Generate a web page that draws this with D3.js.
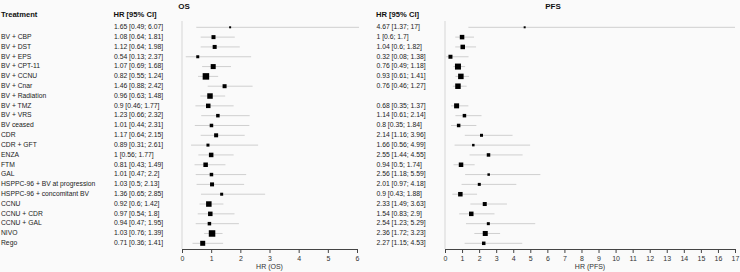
<!DOCTYPE html>
<html>
<head>
<meta charset="utf-8">
<script src="https://cdn.jsdelivr.net/npm/d3@7"></script>
<style>
  body { margin: 0; background: #fafafa; }
  svg { font-family: "Liberation Sans", Arial, sans-serif; display: block; }
</style>
</head>
<body>
<div id="chart"></div>
<script>
// Data
const treatments = ["", "BV + CBP", "BV + DST", "BV + EPS", "BV + CPT-11", "BV + CCNU", "BV + Cnar",
  "BV + Radiation", "BV + TMZ", "BV + VRS", "BV ceased", "CDR", "CDR + GFT", "ENZA", "FTM", "GAL",
  "HSPPC-96 + BV at progression", "HSPPC-96 + concomitant BV", "CCNU", "CCNU + CDR", "CCNU + GAL", "NIVO", "Rego"];

const osHR    = [1.65, 1.08, 1.12, 0.54, 1.07, 0.82, 1.46, 0.96, 0.9, 1.23, 1.01, 1.17, 0.89, 1, 0.81, 1.01, 1.03, 1.36, 0.92, 0.97, 0.94, 1.03, 0.71];
const osLower = [0.49, 0.64, 0.64, 0.13, 0.69, 0.55, 0.88, 0.63, 0.46, 0.66, 0.44, 0.64, 0.31, 0.56, 0.43, 0.47, 0.5, 0.65, 0.6, 0.54, 0.47, 0.76, 0.36];
const osUpper = [6.07, 1.81, 1.98, 2.37, 1.68, 1.24, 2.42, 1.48, 1.77, 2.32, 2.31, 2.15, 2.61, 1.77, 1.49, 2.2, 2.13, 2.85, 1.42, 1.8, 1.95, 1.39, 1.41];
const osWeight = [2, 4, 4, 3, 5, 6.5, 4, 5.5, 4.5, 3.5, 3.5, 4, 3, 4.5, 4.5, 3.5, 4, 3, 5.5, 4.5, 3.5, 6.5, 5];

const pfsHR    = [4.67, 1, 1.04, 0.32, 0.76, 0.93, 0.76, null, 0.68, 1.14, 0.8, 2.14, 1.66, 2.55, 0.94, 2.56, 2.01, 0.9, 2.33, 1.54, 2.54, 2.36, 2.27];
const pfsLower = [1.37, 0.6, 0.6, 0.08, 0.49, 0.61, 0.46, null, 0.35, 0.61, 0.35, 1.16, 0.56, 1.44, 0.5, 1.18, 0.97, 0.43, 1.49, 0.83, 1.23, 1.72, 1.15];
const pfsUpper = [17, 1.7, 1.82, 1.38, 1.18, 1.41, 1.27, null, 1.37, 2.14, 1.84, 3.96, 4.99, 4.55, 1.74, 5.59, 4.18, 1.88, 3.63, 2.9, 5.29, 3.23, 4.53];
const pfsWeight = [2, 4.5, 4.5, 4, 6, 5.5, 5.5, null, 5, 3.5, 3.5, 3, 2.5, 3.5, 4.5, 2.5, 3, 4.5, 4, 4.5, 3, 5, 3.5];

const osTicks = d3.range(0, 7);
const pfsTicks = d3.range(0, 18);

const W = 740, H = 272;
const svg = d3.select("#chart").append("svg")
    .attr("width", W)
    .attr("height", H);

const y = d3.scalePoint()
    .domain(d3.range(treatments.length))
    .range([27.3, 243.3]);

const axisY = 249;
const size = d3.scaleLinear().domain([0, 7]).range([0, 7]);

// Header
svg.append("text").attr("x", 1).attr("y", 15).attr("dominant-baseline", "middle")
    .attr("font-size", 7.6).attr("font-weight", "bold").attr("fill", "#111").text("Treatment");

svg.selectAll("text.treat")
    .data(treatments)
    .enter().append("text")
    .attr("class", "treat")
    .attr("x", 1)
    .attr("y", (d, i) => y(i))
    .attr("dominant-baseline", "middle")
    .attr("font-size", 6.75)
    .attr("fill", "#222")
    .text(d => d);

function fmt(v) { return String(v); }

function panel(opts) {
    const x = d3.scaleLinear().domain(opts.domain).range(opts.range);
    const rows = treatments.map((t, i) => ({
        i, hr: opts.hr[i], lo: opts.lower[i], hi: opts.upper[i], w: opts.weight[i]
    })).filter(d => d.hr != null);

    // Title
    svg.append("text").attr("x", opts.titleX).attr("y", 7).attr("text-anchor", "middle")
        .attr("dominant-baseline", "middle").attr("font-size", 8).attr("font-weight", "bold")
        .attr("fill", "#111").text(opts.title);

    // Column header
    svg.append("text").attr("x", opts.textX).attr("y", 15).attr("dominant-baseline", "middle")
        .attr("font-size", 7.6).attr("font-weight", "bold").attr("fill", "#111").text("HR [95% CI]");

    // Value labels
    svg.append("g").selectAll("text")
        .data(rows)
        .enter().append("text")
        .attr("x", opts.textX + 0.5)
        .attr("y", d => y(d.i))
        .attr("dominant-baseline", "middle")
        .attr("font-size", 6.8)
        .attr("fill", "#222")
        .text(d => `${fmt(d.hr)} [${fmt(d.lo)}; ${fmt(d.hi)}]`);

    // Reference line at x = 0
    svg.append("line")
        .attr("x1", x(0)).attr("x2", x(0))
        .attr("y1", 21).attr("y2", axisY)
        .attr("stroke", "#d6d6d6").attr("stroke-width", 1);

    // CI lines
    svg.append("g").selectAll("line")
        .data(rows)
        .enter().append("line")
        .attr("x1", d => x(d.lo))
        .attr("x2", d => x(d.hi))
        .attr("y1", d => y(d.i))
        .attr("y2", d => y(d.i))
        .attr("stroke", "#cfcfcf")
        .attr("stroke-width", 1);

    // Boxes
    svg.append("g").selectAll("rect")
        .data(rows)
        .enter().append("rect")
        .attr("x", d => x(d.hr) - size(d.w) / 2)
        .attr("y", d => y(d.i) - size(d.w) / 2)
        .attr("width", d => size(d.w))
        .attr("height", d => size(d.w))
        .attr("fill", "#000");

    // Axis
    const ax = svg.append("g")
        .attr("transform", `translate(0, ${axisY})`)
        .call(d3.axisBottom(x).tickValues(opts.ticks).tickSize(4).tickSizeOuter(4).tickPadding(3).tickFormat(d3.format("d")));
    ax.selectAll("path, line").attr("stroke", "#444");
    ax.selectAll("text").attr("font-size", 7).attr("fill", "#333").attr("font-family", "Liberation Sans, Arial, sans-serif");

    svg.append("text").attr("x", (opts.range[0] + opts.range[1]) / 2).attr("y", 267)
        .attr("text-anchor", "middle").attr("dominant-baseline", "middle")
        .attr("font-size", 7).attr("fill", "#333").text(opts.axisTitle);
}

panel({ title: "OS", titleX: 184, textX: 113.5, domain: [0, 6], range: [182, 357],
    hr: osHR, lower: osLower, upper: osUpper, weight: osWeight, ticks: osTicks, axisTitle: "HR (OS)" });

panel({ title: "PFS", titleX: 553, textX: 376, domain: [0, 17], range: [445, 735],
    hr: pfsHR, lower: pfsLower, upper: pfsUpper, weight: pfsWeight, ticks: pfsTicks, axisTitle: "HR (PFS)" });
</script>
</body>
</html>
